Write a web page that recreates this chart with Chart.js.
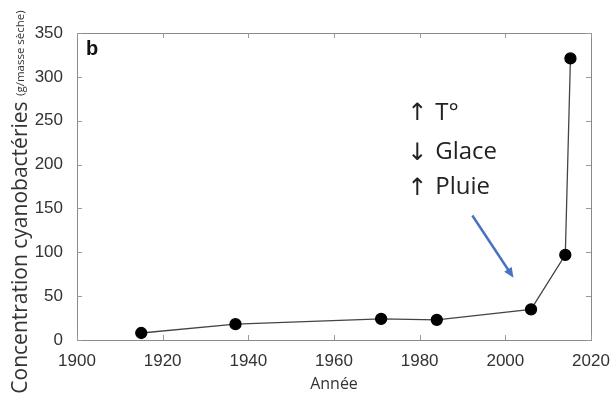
<!DOCTYPE html>
<html>
<head>
<meta charset="utf-8">
<script src="https://cdn.jsdelivr.net/npm/chart.js@4"></script>
<style>
  html, body { margin: 0; padding: 0; background: #fff; }
  #wrap { width: 614px; height: 402px; }
</style>
</head>
<body>
<div id="wrap"><canvas id="myChart"></canvas></div>
<script>
//----------------------
// Data
//----------------------

const years = [1915, 1937, 1971, 1984, 2006, 2014, 2015.2];
const concentration = [8, 18, 24, 23, 35, 97, 321];
const xTicks = [1900, 1920, 1940, 1960, 1980, 2000, 2020];
const yTicks = [0, 50, 100, 150, 200, 250, 300, 350];
const arrows = ['\u2191', '\u2193', '\u2191'];
const notes = ['T\u00b0', 'Glace', 'Pluie'];

//----------------------
// Frame, inward ticks, labels and arrow
//----------------------

const extras = {
    id: 'extras',
    afterDraw(chart) {
        const c = chart.ctx;
        const a = chart.chartArea;
        const x = chart.scales.x;
        const y = chart.scales.y;

        c.save();
        // box round the plot
        c.strokeStyle = '#8a8a8a';
        c.lineWidth = 1;
        c.strokeRect(a.left + 0.5, a.top + 0.5, a.right - a.left, a.bottom - a.top);

        // ticks pointing inward on all four sides
        c.strokeStyle = '#9a9a9a';
        c.beginPath();
        xTicks.forEach(t => {
            const px = Math.round(x.getPixelForValue(t)) + 0.5;
            c.moveTo(px, a.bottom); c.lineTo(px, a.bottom - 5);
            c.moveTo(px, a.top); c.lineTo(px, a.top + 5);
        });
        yTicks.forEach(t => {
            const py = Math.round(y.getPixelForValue(t)) + 0.5;
            c.moveTo(a.left, py); c.lineTo(a.left + 5, py);
            c.moveTo(a.right, py); c.lineTo(a.right - 5, py);
        });
        c.stroke();

        // panel letter
        c.fillStyle = '#111';
        c.font = 'bold 20px "Liberation Sans", Arial, sans-serif';
        c.textAlign = 'left';
        c.textBaseline = 'middle';
        c.fillText('b', a.left + 9, a.top + 16);

        // y axis title, two sizes
        c.translate(27, 202);
        c.rotate(-Math.PI / 2);
        const big = '21px "Open Sans", sans-serif';
        const small = '11.5px "Open Sans", sans-serif';
        const t1 = 'Concentration cyanobact\u00e9ries ';
        const t2 = '(g/masse s\u00e8che)';
        c.font = big;
        const w1 = c.measureText(t1).width;
        c.font = small;
        const w2 = c.measureText(t2).width;
        const start = -(w1 + w2) / 2;
        c.fillStyle = '#333';
        c.textAlign = 'left';
        c.textBaseline = 'alphabetic';
        c.font = big;
        c.fillText(t1, start, 0);
        c.font = small;
        c.fillText(t2, start + w1, -3);
        c.restore();

        // annotation text
        c.save();
        c.fillStyle = '#222';
        c.textAlign = 'left';
        c.textBaseline = 'middle';
        const noteX = x.getPixelForValue(1978.5);
        [259, 214, 174].forEach((v, i) => {
            const py = y.getPixelForValue(v);
            c.font = '24px "DejaVu Sans", sans-serif';
            c.fillText(arrows[i], noteX - 6, py + 1);
            c.font = '24px "Open Sans", sans-serif';
            c.fillText(notes[i], noteX + 22, py);
        });

        // blue arrow
        const x0 = x.getPixelForValue(1992.3), y0 = y.getPixelForValue(142);
        const x1 = x.getPixelForValue(2001.9), y1 = y.getPixelForValue(71);
        const ang = Math.atan2(y1 - y0, x1 - x0);
        c.strokeStyle = '#4a72c4';
        c.fillStyle = '#4a72c4';
        c.lineWidth = 2.5;
        c.beginPath();
        c.moveTo(x0, y0);
        c.lineTo(x1 - 6 * Math.cos(ang), y1 - 6 * Math.sin(ang));
        c.stroke();
        c.beginPath();
        c.moveTo(x1, y1);
        c.lineTo(x1 - 10 * Math.cos(ang) + 4.5 * Math.sin(ang), y1 - 10 * Math.sin(ang) - 4.5 * Math.cos(ang));
        c.lineTo(x1 - 10 * Math.cos(ang) - 4.5 * Math.sin(ang), y1 - 10 * Math.sin(ang) + 4.5 * Math.cos(ang));
        c.closePath();
        c.fill();
        c.restore();
    }
};

//----------------------
// Chart
//----------------------

const ctx = document.getElementById('myChart').getContext('2d');
const chart = new Chart(ctx, {
    type: 'line',
    data: {
        datasets: [{
            data: years.map((yr, i) => ({ x: yr, y: concentration[i] })),
            borderColor: '#444',
            borderWidth: 1.3,
            pointBackgroundColor: '#000',
            pointBorderColor: '#000',
            pointRadius: 5.5,
            tension: 0
        }]
    },
    options: {
        responsive: true,
        maintainAspectRatio: false,
        animation: false,
        layout: { padding: { top: 33, right: 23, left: 0, bottom: 8 } },
        plugins: {
            legend: { display: false },
            tooltip: { enabled: false }
        },
        scales: {
            x: {
                type: 'linear',
                min: 1900,
                max: 2020,
                afterBuildTicks: s => { s.ticks = xTicks.map(v => ({ value: v })); },
                afterFit: s => { s.height = 54; },
                grid: { display: false },
                border: { display: false },
                ticks: {
                    color: '#333',
                    font: { family: '"Liberation Sans", Arial, sans-serif', size: 17 },
                    padding: 3,
                    maxRotation: 0,
                    callback: v => String(v)
                },
                title: {
                    display: true,
                    text: 'Ann\u00e9e',
                    color: '#333',
                    font: { family: '"Open Sans", sans-serif', size: 16 },
                    padding: { top: 0, bottom: 0 }
                }
            },
            y: {
                min: 0,
                max: 350,
                afterBuildTicks: s => { s.ticks = yTicks.map(v => ({ value: v })); },
                afterFit: s => { s.width = 77; },
                grid: { display: false },
                border: { display: false },
                ticks: {
                    color: '#333',
                    font: { family: '"Liberation Sans", Arial, sans-serif', size: 17 },
                    padding: 6,
                    callback: v => String(v)
                }
            }
        }
    },
    plugins: [extras]
});
</script>
</body>
</html>
